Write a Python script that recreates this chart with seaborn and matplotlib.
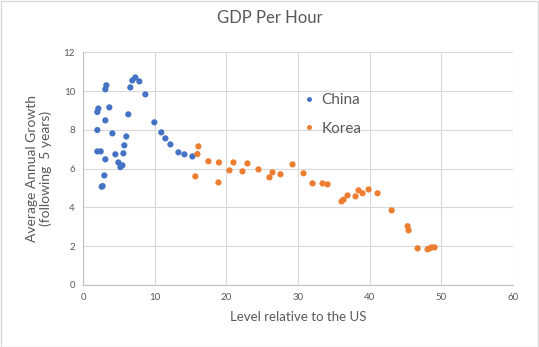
import matplotlib
matplotlib.use("Agg")
import matplotlib.pyplot as plt
import seaborn as sns
import pandas as pd
from matplotlib.patches import Rectangle

china_x = [1.96, 2.1, 1.96, 1.96, 2.43, 2.57, 2.7, 2.94, 3.08, 3.08, 3.08, 3.22, 3.64,
           4.06, 4.48, 4.9, 5.18, 5.46, 5.6, 5.73, 6.01, 6.29, 6.57, 6.85, 7.27, 7.83,
           8.67, 9.93, 10.9, 11.47, 12.17, 13.29, 14.13, 15.24]
china_y = [8.92, 9.1, 7.99, 6.89, 6.89, 5.07, 5.1, 5.65, 6.48, 8.49, 10.09, 10.3, 9.16,
           7.82, 6.74, 6.32, 6.08, 6.17, 6.79, 7.2, 7.66, 8.8, 10.19, 10.55, 10.7, 10.5,
           9.83, 8.39, 7.87, 7.56, 7.25, 6.84, 6.74, 6.63]
korea_x = [16.08, 15.94, 15.66, 17.48, 18.95, 18.88, 20.42, 20.98, 22.24, 22.94, 24.48,
           26.01, 26.43, 27.55, 29.23, 30.77, 32.03, 33.43, 34.13, 36.08, 36.36, 36.92,
           38.04, 38.46, 39.02, 39.86, 41.12, 43.08, 45.31, 45.45, 46.71, 48.11, 48.39,
           48.67, 49.09]
korea_y = [7.15, 6.75, 5.6, 6.38, 6.32, 5.29, 5.91, 6.32, 5.86, 6.27, 5.96, 5.55, 5.81,
           5.71, 6.22, 5.76, 5.24, 5.24, 5.19, 4.31, 4.4, 4.62, 4.57, 4.88, 4.73, 4.93,
           4.73, 3.85, 3.03, 2.82, 1.89, 1.84, 1.89, 1.94, 1.94]

df = pd.DataFrame({
    "level": china_x + korea_x,
    "growth": china_y + korea_y,
    "country": ["China"] * len(china_x) + ["Korea"] * len(korea_x),
})

sns.set_style("white")
plt.rcParams["font.family"] = ["Lato", "DejaVu Sans"]

fig = plt.figure(figsize=(5.39, 3.47), dpi=100)
ax = fig.add_axes([83.3 / 539, 1 - 285 / 347, (512.7 - 83.3) / 539, (285 - 52.3) / 347])

sns.scatterplot(data=df, x="level", y="growth", hue="country",
                palette={"China": "#4472C4", "Korea": "#ED7D31"},
                s=20, edgecolor="none", ax=ax, zorder=3)

ax.set_xlim(0, 60)
ax.set_ylim(0, 12)
ax.set_xticks(range(0, 61, 10))
ax.set_yticks(range(0, 13, 2))
ax.grid(True, color="#D9D9D9", linewidth=0.8)
ax.set_axisbelow(True)
for s in ["top", "right"]:
    ax.spines[s].set_visible(False)
for s in ["left", "bottom"]:
    ax.spines[s].set_color("#BFBFBF")
    ax.spines[s].set_linewidth(0.8)
ax.tick_params(axis="both", length=0, labelsize=7, colors="#595959", pad=6)

ax.set_xlabel("Level relative to the US", fontsize=9.5, color="#595959", labelpad=6)
ax.set_ylabel("Average Annual Growth\n(following  5 years)", fontsize=10, color="#595959", labelpad=8)
fig.suptitle("GDP Per Hour", y=1 - 18 / 347, va="center", fontsize=12, color="#595959")

leg = ax.legend(loc="upper left", bbox_to_anchor=((303 - 83.3) / 429.4, (285 - 93) / 232.7),
                frameon=False, borderpad=0, borderaxespad=0, handlelength=0.8,
                fontsize=11, handletextpad=0.4, labelspacing=0.95, markerscale=0.8)
for t in leg.get_texts():
    t.set_color("#595959")

fig.patches.append(Rectangle((0.5 / 539, 0.5 / 347), 1 - 1.5 / 539, 1 - 1.5 / 347,
                             transform=fig.transFigure, fill=False,
                             edgecolor="#D9D9D9", linewidth=1))

fig.savefig("out.png", dpi=100)
